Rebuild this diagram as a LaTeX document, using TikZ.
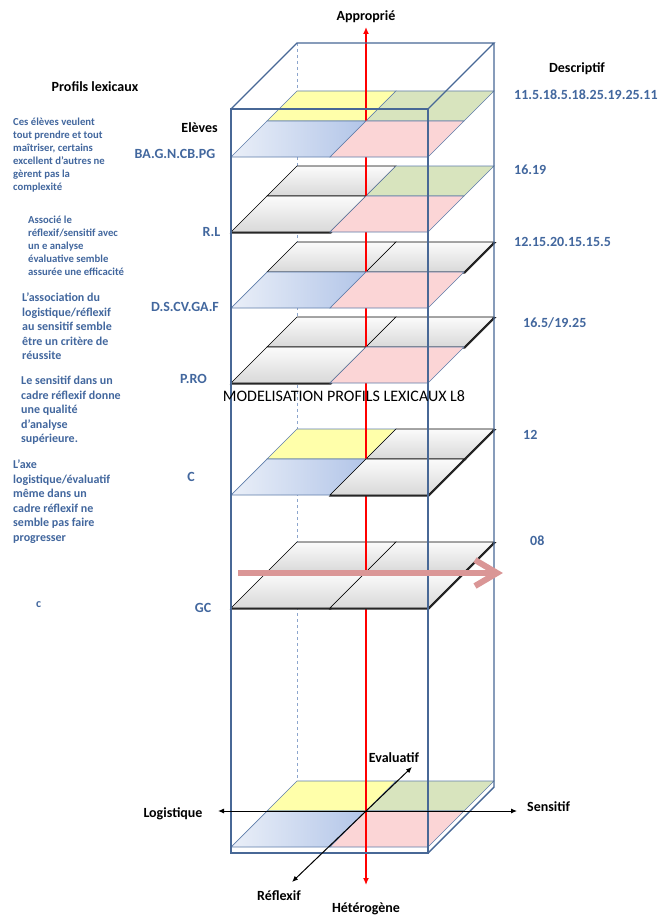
\documentclass[tikz,border=0pt]{standalone}
\usepackage{fontspec}
\setmainfont{Carlito}
\usetikzlibrary{arrows.meta}
\definecolor{boxc}{RGB}{72,104,150}
\definecolor{dashc}{RGB}{140,165,205}
\definecolor{tilec}{RGB}{95,125,170}
\definecolor{yelt}{RGB}{255,255,170}
\definecolor{grnt}{RGB}{216,228,190}
\definecolor{pnkt}{RGB}{251,213,214}
\definecolor{blL}{RGB}{234,239,248}
\definecolor{blR}{RGB}{178,197,232}
\definecolor{txtb}{RGB}{66,103,158}
\definecolor{parr}{RGB}{218,150,150}
\newcommand\mytile[5]{\path[#1] (#2,#3) -- ++(#5,0) -- ++(#4,-#4) -- ++(-#5,0) -- cycle;}
\newcommand\myback[3]{\mytile{#2}{267}{#1-36}{30}{99}\mytile{#3}{366}{#1-36}{30}{98}}
\newcommand\myfront[3]{\mytile{#2}{231}{#1}{36}{99}\mytile{#3}{330}{#1}{36}{98}}
\begin{document}
\begin{tikzpicture}[x=1pt,y=-1pt,
  yt/.style={fill=yelt, draw=tilec, line width=0.6},
  gt/.style={fill=grnt, draw=tilec, line width=0.6},
  pt/.style={fill=pnkt, draw=tilec, line width=0.6},
  bt/.style={left color=blL, right color=blR, draw=tilec, line width=0.7},
  gr/.style={top color=gray!3, bottom color=gray!30, draw=black, line width=0.6,
    preaction={draw=black!85, line width=1.6, transform canvas={shift={(0.6pt,-0.8pt)}}}},
  boxline/.style={draw=boxc, line width=1.4},
  hdr/.style={font=\fontsize{14}{17}\selectfont\bfseries, text=black, inner sep=0},
  lab/.style={font=\fontsize{14}{17}\selectfont\bfseries, text=txtb, inner sep=0},
  parA/.style={font=\fontsize{10.7}{13}\selectfont\bfseries, text=txtb, align=left, anchor=north west, inner sep=0},
  parB/.style={font=\fontsize{12}{14.5}\selectfont\bfseries, text=txtb, align=left, anchor=north west, inner sep=0},
  axis/.style={draw=black, line width=1, {Latex[length=6pt,width=5pt]}-{Latex[length=6pt,width=5pt]}}
]
\useasboundingbox (0,0) rectangle (657,915);
\fill[white] (0,0) rectangle (657,915);
% hidden back-left edge
\draw[dashc, dashed, line width=1] (297,43) -- (297,787);
% bottom layer
\myback{847}{yt}{gt}
\myfront{847}{bt}{pt}
% back rows
\myback{157}{yt}{gt}
\myback{232}{gr}{gt}
\myback{308}{gr}{gr}
\myback{383}{gr}{gr}
\myback{495}{yt}{gr}
\myback{608}{gr}{gr}
% red vertical axis
\coordinate (rtop) at (366,27);
\coordinate (rbot) at (366,885);
\draw[red, line width=1.3, {Latex[length=7pt,width=6pt]}-{Latex[length=7pt,width=6pt]}] (rbot) -- (rtop);
% front rows
\myfront{157}{bt}{pt}
\myfront{232}{gr}{pt}
\myfront{308}{bt}{pt}
\myfront{383}{gr}{pt}
\myfront{495}{bt}{gr}
\myfront{608}{gr}{gr}
% red axis over bottom layer
\draw[red, line width=1.3] (366,811) -- (366,878);
% box
\draw[boxline] (231,109) rectangle (428,853);
\draw[boxline] (231,109) -- (297,43) -- (494,43) -- (428,109);
\draw[boxline] (494,43) -- (494,787) -- (428,853);
% pink arrow
\coordinate (pa1) at (238,573);
\coordinate (pa2) at (494,573);
\coordinate (pv) at (497,573);
\draw[parr, line width=6] (pa1) -- (pa2);
\draw[parr, line width=6, line join=miter] (475,560) -- (pv) -- (475,586);
% black axes
\coordinate (lg) at (218,811);
\coordinate (se) at (517,811);
\coordinate (ev) at (412,767);
\coordinate (rf) at (292,882);
\draw[axis] (lg) -- (se);
\draw[axis] (rf) -- (ev);
% texts
\node[hdr, anchor=base] (prof) at (95,91.5) {Profils lexicaux};
\node[hdr, anchor=base east] (elv) at (218,132.5) {Elèves};
\node[lab, anchor=base] (n1) at (175,158.5) {BA.G.N.CB.PG};
\node[lab, anchor=base] (n2) at (211.5,236.5) {R.L};
\node[lab, anchor=base] (n3) at (185,311.5) {D.S.CV.GA.F};
\node[lab, anchor=base] (n4) at (193.5,383.5) {P.RO};
\node[lab, anchor=base] (n5) at (191,481.5) {C};
\node[lab, anchor=base] (n6) at (203,612.5) {GC};
\node[hdr, anchor=base] (desc) at (577,72.5) {Descriptif};
\node[lab, anchor=base west] (d1) at (514,99.5) {11.5.18.5.18.25.19.25.11};
\node[lab, anchor=base west] (d2) at (514,174.5) {16.19};
\node[lab, anchor=base west] (d3) at (514,246.5) {12.15.20.15.15.5};
\node[lab, anchor=base west] (d4) at (523,327.5) {16.5/19.25};
\node[lab, anchor=base west] (d5) at (523,439.5) {12};
\node[lab, anchor=base west] (d6) at (530,545.5) {08};
\node[font=\fontsize{16}{19}\selectfont, text=black, inner sep=0, anchor=base] (title) at (344,401) {MODELISATION PROFILS LEXICAUX L8};
\node[hdr, anchor=base] (appr) at (366,20.5) {Approprié};
\node[hdr, anchor=base] (hete) at (366,912.5) {Hétérogène};
\node[hdr, anchor=base] (logi) at (173,817.5) {Logistique};
\node[hdr, anchor=base west] (sens) at (527,811) {Sensitif};
\node[hdr, anchor=base] (eval) at (394,762.5) {Evaluatif};
\node[hdr, anchor=base] (refl) at (279,900.5) {Réflexif};
\node[parA] (p1) at (13,118) {Ces élèves veulent\\tout prendre et tout\\maîtriser, certains\\excellent d’autres ne\\gèrent pas la\\complexité};
\node[parA] (p2) at (28,216) {Associé le\\réflexif/sensitif avec\\un e analyse\\évaluative semble\\assurée une  efficacité};
\node[parB] (p3) at (22,293) {L’association du\\logistique/réflexif\\au sensitif semble\\être un critère de\\réussite};
\node[parB] (p4) at (21,376) {Le sensitif dans un\\cadre réflexif donne\\une qualité\\d’analyse\\supérieure.};
\node[parB] (p5) at (13,460) {L’axe\\logistique/évaluatif\\même dans un\\cadre réflexif ne\\semble pas faire\\progresser};
\node[parB, anchor=base west] (pc) at (36,607) {c};
\end{tikzpicture}
\end{document}
